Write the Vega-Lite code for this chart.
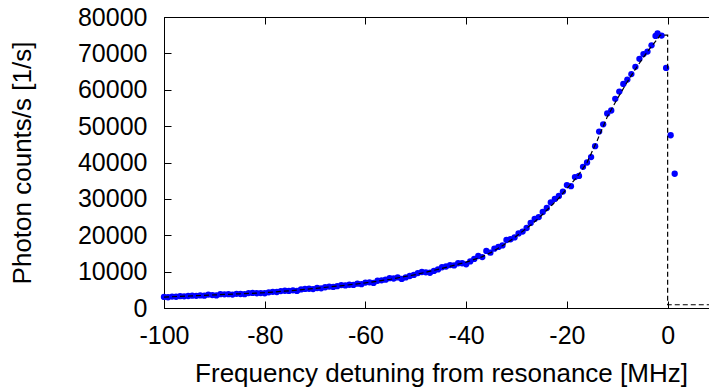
{
  "$schema": "https://vega.github.io/schema/vega-lite/v6.json",
  "autosize": {"type": "none"},
  "padding": {"left": 164, "top": 17, "right": 0, "bottom": 82},
  "width": 554,
  "height": 291,
  "background": "white",
  "config": {
    "view": {"stroke": "black", "strokeWidth": 1},
    "font": "Liberation Sans",
    "axis": {
      "domainColor": "black",
      "tickColor": "black",
      "labelColor": "black",
      "titleColor": "black",
      "labelFont": "Liberation Sans",
      "titleFont": "Liberation Sans",
      "labelFontSize": 25,
      "titleFontSize": 26,
      "titleFontWeight": "normal",
      "grid": false,
      "tickSize": -7,
      "tickWidth": 1,
      "domainWidth": 1
    }
  },
  "datasets": {
    "pts": [
      {"x": -100.0, "y": 3050}, {"x": -99.2, "y": 2950}, {"x": -98.4, "y": 3150}, {"x": -97.6, "y": 3100},
      {"x": -96.8, "y": 3250}, {"x": -96.0, "y": 3200}, {"x": -95.2, "y": 3300}, {"x": -94.4, "y": 3400},
      {"x": -93.6, "y": 3350}, {"x": -92.8, "y": 3450}, {"x": -92.0, "y": 3400}, {"x": -91.2, "y": 3700},
      {"x": -90.4, "y": 3550}, {"x": -89.6, "y": 3450}, {"x": -88.8, "y": 3800}, {"x": -88.0, "y": 3750},
      {"x": -87.2, "y": 3800}, {"x": -86.4, "y": 3700}, {"x": -85.6, "y": 3900}, {"x": -84.8, "y": 3850},
      {"x": -84.0, "y": 3800}, {"x": -83.2, "y": 4100}, {"x": -82.4, "y": 4150}, {"x": -81.6, "y": 4050},
      {"x": -80.8, "y": 4100}, {"x": -80.0, "y": 4050}, {"x": -79.2, "y": 4300}, {"x": -78.4, "y": 4450},
      {"x": -77.6, "y": 4400}, {"x": -76.8, "y": 4650}, {"x": -76.0, "y": 4750}, {"x": -75.2, "y": 4700},
      {"x": -74.4, "y": 4850}, {"x": -73.6, "y": 4700}, {"x": -72.8, "y": 5100}, {"x": -72.0, "y": 5250},
      {"x": -71.2, "y": 5300}, {"x": -70.4, "y": 5200}, {"x": -69.6, "y": 5500}, {"x": -68.8, "y": 5400},
      {"x": -68.0, "y": 5700}, {"x": -67.2, "y": 5900}, {"x": -66.4, "y": 5800}, {"x": -65.6, "y": 6000},
      {"x": -64.8, "y": 6300}, {"x": -64.0, "y": 6200}, {"x": -63.2, "y": 6400}, {"x": -62.4, "y": 6350},
      {"x": -61.6, "y": 6700}, {"x": -60.8, "y": 6550}, {"x": -60.0, "y": 7000}, {"x": -59.2, "y": 7050},
      {"x": -58.4, "y": 6900}, {"x": -57.6, "y": 7500}, {"x": -56.8, "y": 7600}, {"x": -56.0, "y": 7800},
      {"x": -55.2, "y": 8200}, {"x": -54.4, "y": 8100}, {"x": -53.6, "y": 8400}, {"x": -52.8, "y": 8000},
      {"x": -52.0, "y": 8400}, {"x": -51.2, "y": 8800}, {"x": -50.4, "y": 9100}, {"x": -49.6, "y": 9600},
      {"x": -48.8, "y": 9900}, {"x": -48.0, "y": 9800}, {"x": -47.2, "y": 9700}, {"x": -46.4, "y": 10200},
      {"x": -45.6, "y": 10600}, {"x": -44.8, "y": 11200}, {"x": -44.0, "y": 11400}, {"x": -43.2, "y": 11800},
      {"x": -42.4, "y": 11700}, {"x": -41.6, "y": 12300}, {"x": -40.8, "y": 12300}, {"x": -40.0, "y": 12000},
      {"x": -39.2, "y": 12800}, {"x": -38.4, "y": 13500}, {"x": -37.6, "y": 14300}, {"x": -36.8, "y": 14000},
      {"x": -36.0, "y": 15700}, {"x": -35.2, "y": 15200}, {"x": -34.4, "y": 16300}, {"x": -33.6, "y": 16800},
      {"x": -32.8, "y": 17200}, {"x": -32.0, "y": 18700}, {"x": -31.2, "y": 18900}, {"x": -30.4, "y": 19400},
      {"x": -29.6, "y": 20500}, {"x": -28.8, "y": 21000}, {"x": -28.0, "y": 22000}, {"x": -27.2, "y": 23400},
      {"x": -26.4, "y": 24500}, {"x": -25.6, "y": 25000}, {"x": -24.8, "y": 26400}, {"x": -24.0, "y": 27500},
      {"x": -23.2, "y": 29000}, {"x": -22.4, "y": 30000}, {"x": -21.6, "y": 30800}, {"x": -20.8, "y": 32000},
      {"x": -20.0, "y": 33800}, {"x": -19.2, "y": 33500}, {"x": -18.4, "y": 36000}, {"x": -17.6, "y": 36300},
      {"x": -16.8, "y": 38800}, {"x": -16.0, "y": 40000}, {"x": -15.2, "y": 41500}, {"x": -14.4, "y": 44500},
      {"x": -13.6, "y": 48500}, {"x": -12.8, "y": 50500}, {"x": -12.0, "y": 53500}, {"x": -11.2, "y": 54300},
      {"x": -10.4, "y": 57500}, {"x": -9.6, "y": 59500}, {"x": -8.8, "y": 61600}, {"x": -8.0, "y": 62800},
      {"x": -7.2, "y": 64300}, {"x": -6.4, "y": 66300}, {"x": -5.6, "y": 68500}, {"x": -4.8, "y": 69800},
      {"x": -4.0, "y": 70500}, {"x": -3.2, "y": 72200}, {"x": -2.4, "y": 74800}, {"x": -2.0, "y": 75500},
      {"x": -1.2, "y": 74900}, {"x": -0.3, "y": 66000}, {"x": 0.6, "y": 47500}, {"x": 1.4, "y": 36900}
    ],
    "fit": [
      {"i": 1, "fx": -100, "fy": 3000}, {"i": 2, "fx": -95, "fy": 3300}, {"i": 3, "fx": -90, "fy": 3600},
      {"i": 4, "fx": -85, "fy": 3900}, {"i": 5, "fx": -80, "fy": 4200}, {"i": 6, "fx": -75, "fy": 4750},
      {"i": 7, "fx": -70, "fy": 5400}, {"i": 8, "fx": -65, "fy": 6100}, {"i": 9, "fx": -60, "fy": 6900},
      {"i": 10, "fx": -55, "fy": 7900}, {"i": 11, "fx": -50, "fy": 9200}, {"i": 12, "fx": -45, "fy": 10800},
      {"i": 13, "fx": -40, "fy": 12600}, {"i": 14, "fx": -37, "fy": 14000}, {"i": 15, "fx": -35, "fy": 15300},
      {"i": 16, "fx": -32, "fy": 17800}, {"i": 17, "fx": -30, "fy": 19800}, {"i": 18, "fx": -27, "fy": 23000},
      {"i": 19, "fx": -25, "fy": 25500}, {"i": 20, "fx": -22, "fy": 29600}, {"i": 21, "fx": -20, "fy": 32800},
      {"i": 22, "fx": -18, "fy": 36000}, {"i": 23, "fx": -16, "fy": 40000}, {"i": 24, "fx": -14, "fy": 46000},
      {"i": 25, "fx": -12, "fy": 52500}, {"i": 26, "fx": -10, "fy": 57500}, {"i": 27, "fx": -8, "fy": 62200},
      {"i": 28, "fx": -6, "fy": 66500}, {"i": 29, "fx": -4, "fy": 70500}, {"i": 30, "fx": -2, "fy": 74000},
      {"i": 31, "fx": -1.5, "fy": 75000}, {"i": 32, "fx": 0, "fy": 75000}, {"i": 33, "fx": 0, "fy": 900},
      {"i": 34, "fx": 10, "fy": 900}
    ]
  },
  "layer": [
    {
      "data": {"name": "pts"},
      "mark": {"type": "point", "filled": true, "color": "#0000ff", "opacity": 1, "size": 40},
      "encoding": {
        "x": {
          "field": "x", "type": "quantitative",
          "scale": {"domain": [-100, 10], "nice": false, "zero": false},
          "axis": {
            "values": [-100, -80, -60, -40, -20, 0],
            "labelExpr": "datum.value < 0 ? '-' + abs(datum.value) : '' + datum.value",
            "title": "Frequency detuning from resonance [MHz]",
            "labelPadding": 22,
            "titlePadding": 12,
            "labelFlush": false,
            "labelOverlap": false
          }
        },
        "y": {
          "field": "y", "type": "quantitative",
          "scale": {"domain": [0, 80000], "nice": false},
          "axis": {
            "values": [0, 10000, 20000, 30000, 40000, 50000, 60000, 70000, 80000],
            "format": "d",
            "title": "Photon counts/s [1/s]",
            "labelPadding": 24,
            "titlePadding": 42,
            "labelFlush": false,
            "labelOverlap": false
          }
        }
      }
    },
    {
      "data": {"name": "fit"},
      "mark": {"type": "line", "color": "black", "strokeWidth": 1.2, "strokeDash": [5, 3]},
      "encoding": {
        "x": {
          "field": "fx", "type": "quantitative",
          "axis": {"orient": "top", "values": [-100, -80, -60, -40, -20, 0], "labels": false, "title": null, "domain": false}
        },
        "y": {
          "field": "fy", "type": "quantitative",
          "axis": {
            "values": [0, 10000, 20000, 30000, 40000, 50000, 60000, 70000, 80000],
            "format": "d",
            "title": "Photon counts/s [1/s]",
            "labelPadding": 24,
            "titlePadding": 42,
            "labelFlush": false,
            "labelOverlap": false
          }
        },
        "order": {"field": "i", "type": "quantitative"}
      }
    }
  ],
  "resolve": {"axis": {"x": "independent"}}
}
